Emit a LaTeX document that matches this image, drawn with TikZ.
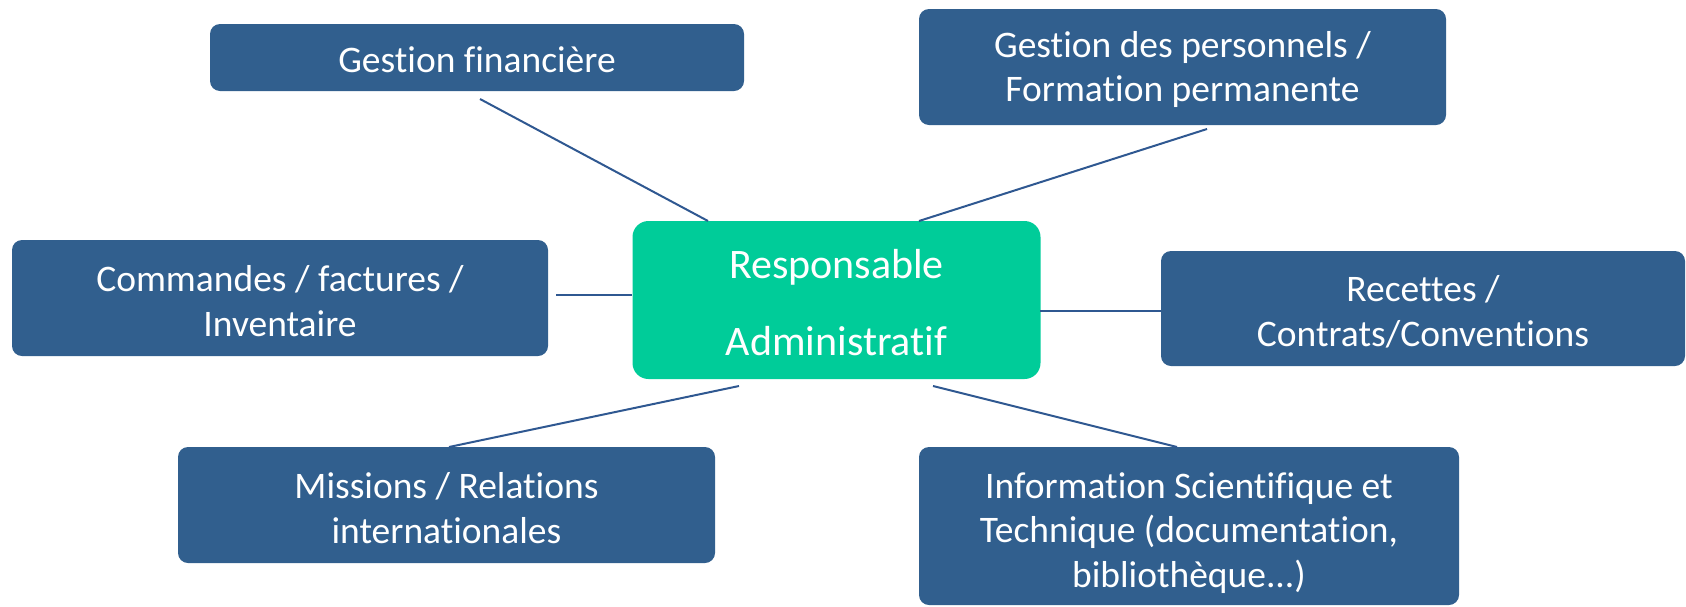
\documentclass[tikz,border=0pt]{standalone}
\usepackage{fontspec}
\setmainfont{Carlito}[Ligatures={NoCommon}]
\definecolor{boxblue}{RGB}{49,95,142}
\definecolor{boxgreen}{RGB}{0,204,153}
\definecolor{lineblue}{RGB}{47,88,145}
\newcommand{\tallstrut}[1]{\rule{0pt}{#1}}
\begin{document}
\begin{tikzpicture}[x=1pt,y=-1pt,
  leaf/.style={fill=boxblue, rounded corners=10pt, text=white, align=center,
    inner sep=0pt, font=\fontsize{37.5}{44.5}\selectfont},
  hub/.style={fill=boxgreen, rounded corners=16pt, text=white, align=center,
    inner sep=0pt, minimum width=408pt, minimum height=158pt,
    font=\fontsize{42}{77}\selectfont},
  link/.style={draw=lineblue, line width=2pt}]
\useasboundingbox (0,0) rectangle (1686,606);
\node[leaf, minimum width=534pt, minimum height=67pt] (gf) at (477,57.5) {\tallstrut{31pt}Gestion financière};
\node[leaf, minimum width=527pt, minimum height=116pt] (gp) at (1182.5,67) {\tallstrut{31pt}Gestion des personnels /\\Formation permanente};
\node[leaf, minimum width=536pt, minimum height=116pt] (cm) at (280,298) {\tallstrut{32pt}Commandes / factures /\\Inventaire};
\node[hub] (ra) at (836.5,300) {\tallstrut{34pt}Responsable\\Administratif};
\node[leaf, minimum width=524pt, minimum height=115pt] (rc) at (1423,308.5) {\tallstrut{33pt}Recettes /\\Contrats/Conventions};
\node[leaf, minimum width=537pt, minimum height=116pt] (mi) at (446.5,505) {\tallstrut{32pt}Missions / Relations\\internationales};
\node[leaf, minimum width=540pt, minimum height=158pt] (is) at (1189,526) {\tallstrut{40pt}Information Scientifique et\\Technique (documentation,\\bibliothèque...)};
\coordinate (gfA) at (480,99);  \coordinate (gfB) at (708,221);
\coordinate (gpA) at (1207,129); \coordinate (gpB) at (919,221);
\coordinate (cmA) at (556,295); \coordinate (cmB) at (632,295);
\coordinate (rcA) at (1040,311); \coordinate (rcB) at (1161,311);
\coordinate (miA) at (739,386); \coordinate (miB) at (449,447);
\coordinate (isA) at (933,386); \coordinate (isB) at (1177,447);
\draw[link] (gfA) -- (gfB);
\draw[link] (gpA) -- (gpB);
\draw[link] (cmA) -- (cmB);
\draw[link] (rcA) -- (rcB);
\draw[link] (miA) -- (miB);
\draw[link] (isA) -- (isB);
\end{tikzpicture}
\end{document}
